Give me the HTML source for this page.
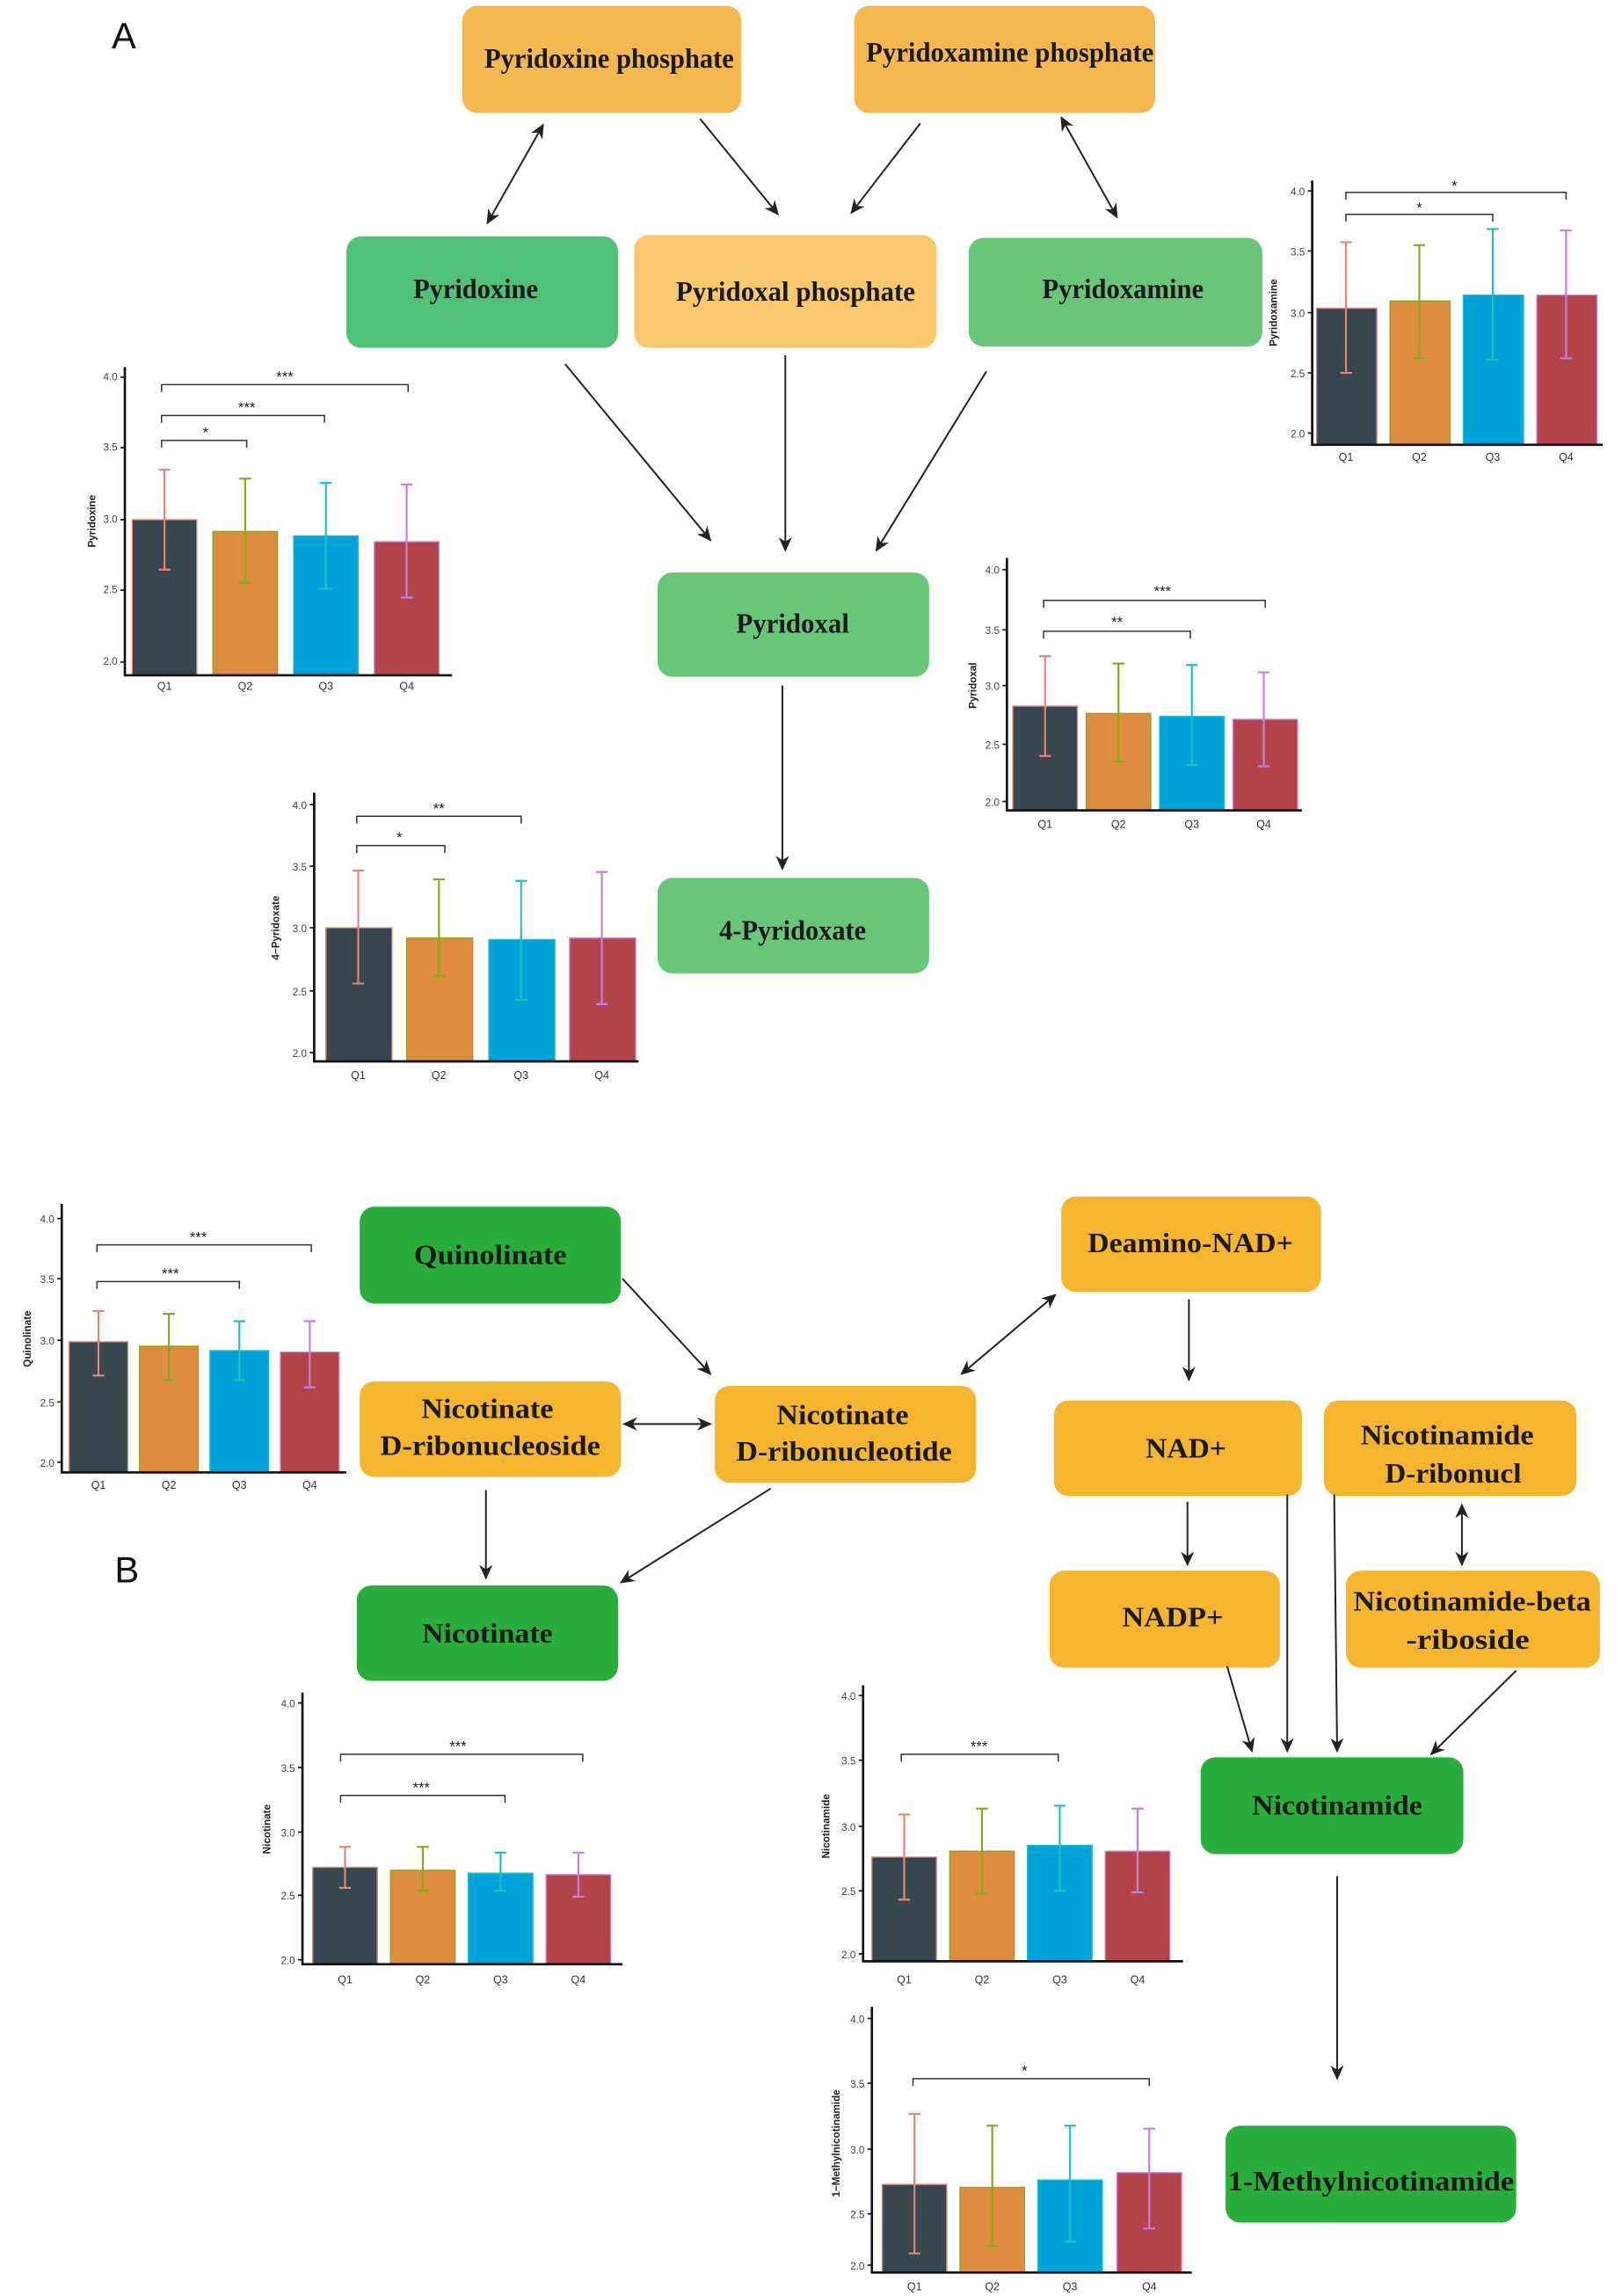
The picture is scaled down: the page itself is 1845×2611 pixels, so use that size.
<!DOCTYPE html>
<html><head><meta charset="utf-8"><style>
html,body{margin:0;padding:0;background:#fff;}
svg{display:block;}
.bx{font-family:"Liberation Serif",serif;font-weight:bold;font-size:19px;fill:#1a1a1a;}
.tk{font-family:"Liberation Sans",sans-serif;font-size:7px;fill:#444;}
.ql{font-family:"Liberation Sans",sans-serif;font-size:7.5px;fill:#333;}
.yl{font-family:"Liberation Sans",sans-serif;font-size:7px;font-weight:bold;fill:#222;}
.st{font-family:"Liberation Sans",sans-serif;font-size:10px;fill:#222;}
.ax{stroke:#111;stroke-width:1.6;fill:none;}
.br{stroke:#333;stroke-width:0.9;fill:none;}
.ar{stroke:#222;stroke-width:1.2;fill:none;}
</style></head><body>
<svg width="1845" height="2611" viewBox="0 0 1105 1564" xmlns="http://www.w3.org/2000/svg">
<defs>
<marker id="ah" markerWidth="10" markerHeight="10" refX="9" refY="5" orient="auto" markerUnits="userSpaceOnUse"><path d="M0,0.5 L10,5 L0,9.5 L3,5 Z" fill="#222"/></marker>
<marker id="as" markerWidth="10" markerHeight="10" refX="1" refY="5" orient="auto" markerUnits="userSpaceOnUse"><path d="M10,0.5 L0,5 L10,9.5 L7,5 Z" fill="#222"/></marker>
</defs>
<rect width="1105" height="1564" fill="#fff"/>

<!-- ===== Part A ===== -->
<text x="76" y="33" font-family="Liberation Sans,sans-serif" font-size="25" fill="#111">A</text>

<rect x="315" y="4" width="190" height="73" rx="10" fill="#f5b851"/>
<text class="bx" x="415" y="46" text-anchor="middle" textLength="170" lengthAdjust="spacingAndGlyphs">Pyridoxine phosphate</text>
<rect x="582" y="4" width="205" height="73" rx="10" fill="#f5b851"/>
<text class="bx" x="688" y="42" text-anchor="middle" textLength="196" lengthAdjust="spacingAndGlyphs">Pyridoxamine phosphate</text>

<rect x="236" y="161" width="185" height="76" rx="10" fill="#4fc277"/>
<text class="bx" x="324" y="203" text-anchor="middle" textLength="85" lengthAdjust="spacingAndGlyphs">Pyridoxine</text>
<rect x="432" y="160" width="206" height="77" rx="10" fill="#f8c96c"/>
<text class="bx" x="542" y="205" text-anchor="middle" textLength="163" lengthAdjust="spacingAndGlyphs">Pyridoxal phosphate</text>
<rect x="660" y="162" width="200" height="74" rx="10" fill="#69c577"/>
<text class="bx" x="765" y="203" text-anchor="middle" textLength="110" lengthAdjust="spacingAndGlyphs">Pyridoxamine</text>

<rect x="448" y="390" width="185" height="71" rx="10" fill="#69c577"/>
<text class="bx" x="540" y="431" text-anchor="middle" textLength="77" lengthAdjust="spacingAndGlyphs">Pyridoxal</text>
<rect x="448" y="598" width="185" height="65" rx="10" fill="#69c577"/>
<text class="bx" x="540" y="640" text-anchor="middle" textLength="100" lengthAdjust="spacingAndGlyphs">4-Pyridoxate</text>

<line class="ar" x1="370" y1="85" x2="332" y2="152" marker-start="url(#as)" marker-end="url(#ah)"/>
<line class="ar" x1="477" y1="81" x2="530" y2="146" marker-end="url(#ah)"/>
<line class="ar" x1="627" y1="84" x2="580" y2="145" marker-end="url(#ah)"/>
<line class="ar" x1="723" y1="80" x2="761" y2="148" marker-start="url(#as)" marker-end="url(#ah)"/>
<line class="ar" x1="385" y1="248" x2="484" y2="368" marker-end="url(#ah)"/>
<line class="ar" x1="535" y1="242" x2="535" y2="375" marker-end="url(#ah)"/>
<line class="ar" x1="672" y1="253" x2="597" y2="375" marker-end="url(#ah)"/>
<line class="ar" x1="533" y1="467" x2="533" y2="592" marker-end="url(#ah)"/>

<!-- Chart Pyridoxine -->
<g>
<rect x="90" y="354" width="44" height="106" fill="#36474f" stroke="#e98375" stroke-width="0.8"/>
<rect x="145" y="362" width="44" height="98" fill="#dd8c3e" stroke="#88a81e" stroke-width="0.8"/>
<rect x="200" y="365" width="44" height="95" fill="#00a2da" stroke="#1fbfc5" stroke-width="0.8"/>
<rect x="255" y="369" width="44" height="91" fill="#b34449" stroke="#c67ee0" stroke-width="0.8"/>
<path d="M112,320V388M108,320H116M108,388H116" stroke="#e98375" stroke-width="1.3" fill="none"/>
<path d="M167,326V397M163,326H171M163,397H171" stroke="#88a81e" stroke-width="1.3" fill="none"/>
<path d="M222,329V401M218,329H226M218,401H226" stroke="#1fbfc5" stroke-width="1.3" fill="none"/>
<path d="M277,330V407M273,330H281M273,407H281" stroke="#c67ee0" stroke-width="1.3" fill="none"/>
<path class="ax" d="M85,250V460H308"/>
<path d="M82,257h3M82,305h3M82,354h3M82,402h3M82,451h3" stroke="#111"/>
<text class="tk" x="80" y="259" text-anchor="end">4.0</text><text class="tk" x="80" y="307" text-anchor="end">3.5</text><text class="tk" x="80" y="356" text-anchor="end">3.0</text><text class="tk" x="80" y="404" text-anchor="end">2.5</text><text class="tk" x="80" y="453" text-anchor="end">2.0</text>
<text class="ql" x="112" y="470" text-anchor="middle">Q1</text><text class="ql" x="167" y="470" text-anchor="middle">Q2</text><text class="ql" x="222" y="470" text-anchor="middle">Q3</text><text class="ql" x="277" y="470" text-anchor="middle">Q4</text>
<text class="yl" transform="translate(65,355) rotate(-90)" text-anchor="middle">Pyridoxine</text>
<path class="br" d="M110,305V300H168V305M110,288V283H221V288M110,267V262H278V267"/>
<text class="st" x="140" y="298" text-anchor="middle">*</text><text class="st" x="168" y="281" text-anchor="middle">***</text><text class="st" x="194" y="260" text-anchor="middle">***</text>
</g>

<!-- Chart Pyridoxamine -->
<g>
<rect x="897" y="210" width="41" height="93" fill="#36474f" stroke="#e98375" stroke-width="0.8"/>
<rect x="947" y="205" width="41" height="98" fill="#dd8c3e" stroke="#88a81e" stroke-width="0.8"/>
<rect x="997" y="201" width="41" height="102" fill="#00a2da" stroke="#1fbfc5" stroke-width="0.8"/>
<rect x="1047" y="201" width="41" height="102" fill="#b34449" stroke="#c67ee0" stroke-width="0.8"/>
<path d="M917,165V254M913,165H921M913,254H921" stroke="#e98375" stroke-width="1.3" fill="none"/>
<path d="M967,167V244M963,167H971M963,244H971" stroke="#88a81e" stroke-width="1.3" fill="none"/>
<path d="M1017,156V245M1013,156H1021M1013,245H1021" stroke="#1fbfc5" stroke-width="1.3" fill="none"/>
<path d="M1067,157V244M1063,157H1071M1063,244H1071" stroke="#c67ee0" stroke-width="1.3" fill="none"/>
<path class="ax" d="M894,123V303H1092"/>
<path d="M891,130h3M891,171h3M891,213h3M891,254h3M891,295h3" stroke="#111"/>
<text class="tk" x="889" y="133" text-anchor="end">4.0</text><text class="tk" x="889" y="174" text-anchor="end">3.5</text><text class="tk" x="889" y="216" text-anchor="end">3.0</text><text class="tk" x="889" y="257" text-anchor="end">2.5</text><text class="tk" x="889" y="298" text-anchor="end">2.0</text>
<text class="ql" x="917" y="314" text-anchor="middle">Q1</text><text class="ql" x="967" y="314" text-anchor="middle">Q2</text><text class="ql" x="1017" y="314" text-anchor="middle">Q3</text><text class="ql" x="1067" y="314" text-anchor="middle">Q4</text>
<text class="yl" transform="translate(870,213) rotate(-90)" text-anchor="middle">Pyridoxamine</text>
<path class="br" d="M917,151V146H1017V151M917,136V131H1067V136"/>
<text class="st" x="967" y="145" text-anchor="middle">*</text><text class="st" x="991" y="130" text-anchor="middle">*</text>
</g>

<!-- Chart Pyridoxal -->
<g>
<rect x="690" y="481" width="44" height="71" fill="#36474f" stroke="#e98375" stroke-width="0.8"/>
<rect x="740" y="486" width="44" height="66" fill="#dd8c3e" stroke="#88a81e" stroke-width="0.8"/>
<rect x="790" y="488" width="44" height="64" fill="#00a2da" stroke="#1fbfc5" stroke-width="0.8"/>
<rect x="840" y="490" width="44" height="62" fill="#b34449" stroke="#c67ee0" stroke-width="0.8"/>
<path d="M712,447V515M708,447H716M708,515H716" stroke="#e98375" stroke-width="1.3" fill="none"/>
<path d="M762,452V519M758,452H766M758,519H766" stroke="#88a81e" stroke-width="1.3" fill="none"/>
<path d="M812,453V521M808,453H816M808,521H816" stroke="#1fbfc5" stroke-width="1.3" fill="none"/>
<path d="M861,458V522M857,458H865M857,522H865" stroke="#c67ee0" stroke-width="1.3" fill="none"/>
<path class="ax" d="M686,380V552H887"/>
<path d="M683,388h3M683,429h3M683,467h3M683,507h3M683,546h3" stroke="#111"/>
<text class="tk" x="681" y="391" text-anchor="end">4.0</text><text class="tk" x="681" y="432" text-anchor="end">3.5</text><text class="tk" x="681" y="470" text-anchor="end">3.0</text><text class="tk" x="681" y="510" text-anchor="end">2.5</text><text class="tk" x="681" y="549" text-anchor="end">2.0</text>
<text class="ql" x="712" y="564" text-anchor="middle">Q1</text><text class="ql" x="762" y="564" text-anchor="middle">Q2</text><text class="ql" x="812" y="564" text-anchor="middle">Q3</text><text class="ql" x="861" y="564" text-anchor="middle">Q4</text>
<text class="yl" transform="translate(665,467) rotate(-90)" text-anchor="middle">Pyridoxal</text>
<path class="br" d="M711,435V430H811V435M711,414V409H862V414"/>
<text class="st" x="761" y="427" text-anchor="middle">**</text><text class="st" x="792" y="406" text-anchor="middle">***</text>
</g>

<!-- Chart 4-Pyridoxate -->
<g>
<rect x="222" y="632" width="45" height="91" fill="#36474f" stroke="#e98375" stroke-width="0.8"/>
<rect x="277" y="639" width="45" height="84" fill="#dd8c3e" stroke="#88a81e" stroke-width="0.8"/>
<rect x="333" y="640" width="45" height="83" fill="#00a2da" stroke="#1fbfc5" stroke-width="0.8"/>
<rect x="388" y="639" width="45" height="84" fill="#b34449" stroke="#c67ee0" stroke-width="0.8"/>
<path d="M244,593V670M240,593H248M240,670H248" stroke="#e98375" stroke-width="1.3" fill="none"/>
<path d="M299,599V665M295,599H303M295,665H303" stroke="#88a81e" stroke-width="1.3" fill="none"/>
<path d="M355,600V681M351,600H359M351,681H359" stroke="#1fbfc5" stroke-width="1.3" fill="none"/>
<path d="M410,594V684M406,594H414M406,684H414" stroke="#c67ee0" stroke-width="1.3" fill="none"/>
<path class="ax" d="M214,540V723H435"/>
<path d="M211,548h3M211,590h3M211,632h3M211,675h3M211,717h3" stroke="#111"/>
<text class="tk" x="209" y="551" text-anchor="end">4.0</text><text class="tk" x="209" y="593" text-anchor="end">3.5</text><text class="tk" x="209" y="635" text-anchor="end">3.0</text><text class="tk" x="209" y="678" text-anchor="end">2.5</text><text class="tk" x="209" y="720" text-anchor="end">2.0</text>
<text class="ql" x="244" y="735" text-anchor="middle">Q1</text><text class="ql" x="299" y="735" text-anchor="middle">Q2</text><text class="ql" x="355" y="735" text-anchor="middle">Q3</text><text class="ql" x="410" y="735" text-anchor="middle">Q4</text>
<text class="yl" transform="translate(190,632) rotate(-90)" text-anchor="middle">4−Pyridoxate</text>
<path class="br" d="M243,581V576H303V581M243,561V556H355V561"/>
<text class="st" x="272" y="574" text-anchor="middle">*</text><text class="st" x="299" y="554" text-anchor="middle">**</text>
</g>

<!-- ===== Part B ===== -->
<text x="78" y="1078" font-family="Liberation Sans,sans-serif" font-size="25" fill="#111">B</text>

<rect x="245" y="822" width="178" height="66" rx="10" fill="#2aae3b"/>
<text class="bx" x="334" y="861" text-anchor="middle" textLength="104" lengthAdjust="spacingAndGlyphs">Quinolinate</text>
<rect x="723" y="815" width="177" height="65" rx="10" fill="#f5b52e"/>
<text class="bx" x="811" y="853" text-anchor="middle" textLength="140" lengthAdjust="spacingAndGlyphs">Deamino-NAD+</text>
<rect x="245" y="941" width="178" height="65" rx="10" fill="#f5b52e"/>
<text class="bx" x="332" y="966" text-anchor="middle" textLength="90" lengthAdjust="spacingAndGlyphs">Nicotinate</text>
<text class="bx" x="334" y="991" text-anchor="middle" textLength="150" lengthAdjust="spacingAndGlyphs">D-ribonucleoside</text>
<rect x="487" y="944" width="178" height="66" rx="10" fill="#f5b52e"/>
<text class="bx" x="574" y="970" text-anchor="middle" textLength="90" lengthAdjust="spacingAndGlyphs">Nicotinate</text>
<text class="bx" x="575" y="995" text-anchor="middle" textLength="147" lengthAdjust="spacingAndGlyphs">D-ribonucleotide</text>
<rect x="718" y="954" width="169" height="65" rx="10" fill="#f5b52e"/>
<text class="bx" x="808" y="993" text-anchor="middle" textLength="55" lengthAdjust="spacingAndGlyphs">NAD+</text>
<rect x="902" y="954" width="172" height="65" rx="10" fill="#f5b52e"/>
<text class="bx" x="986" y="984" text-anchor="middle" textLength="118" lengthAdjust="spacingAndGlyphs">Nicotinamide</text>
<text class="bx" x="990" y="1010" text-anchor="middle" textLength="93" lengthAdjust="spacingAndGlyphs">D-ribonucl</text>
<rect x="715" y="1070" width="157" height="66" rx="10" fill="#f5b52e"/>
<text class="bx" x="799" y="1108" text-anchor="middle" textLength="69" lengthAdjust="spacingAndGlyphs">NADP+</text>
<rect x="917" y="1070" width="173" height="66" rx="10" fill="#f5b52e"/>
<text class="bx" x="1003" y="1097" text-anchor="middle" textLength="162" lengthAdjust="spacingAndGlyphs">Nicotinamide-beta</text>
<text class="bx" x="1000" y="1123" text-anchor="middle" textLength="84" lengthAdjust="spacingAndGlyphs">-riboside</text>
<rect x="243" y="1080" width="178" height="65" rx="10" fill="#2aae3b"/>
<text class="bx" x="332" y="1119" text-anchor="middle" textLength="89" lengthAdjust="spacingAndGlyphs">Nicotinate</text>
<rect x="818" y="1197" width="179" height="66" rx="10" fill="#2aae3b"/>
<text class="bx" x="911" y="1236" text-anchor="middle" textLength="116" lengthAdjust="spacingAndGlyphs">Nicotinamide</text>
<rect x="835" y="1448" width="198" height="66" rx="10" fill="#2aae3b"/>
<text class="bx" x="934" y="1492" text-anchor="middle" textLength="195" lengthAdjust="spacingAndGlyphs">1-Methylnicotinamide</text>

<line class="ar" x1="424" y1="871" x2="484" y2="936" marker-end="url(#ah)"/>
<line class="ar" x1="655" y1="936" x2="719" y2="882" marker-start="url(#as)" marker-end="url(#ah)"/>
<line class="ar" x1="425" y1="970" x2="484" y2="970" marker-start="url(#as)" marker-end="url(#ah)"/>
<line class="ar" x1="331" y1="1015" x2="331" y2="1075" marker-end="url(#ah)"/>
<line class="ar" x1="525" y1="1014" x2="423" y2="1078" marker-end="url(#ah)"/>
<line class="ar" x1="810" y1="885" x2="810" y2="940" marker-end="url(#ah)"/>
<line class="ar" x1="809" y1="1023" x2="809" y2="1066" marker-end="url(#ah)"/>
<line class="ar" x1="877" y1="1018" x2="877" y2="1193" marker-end="url(#ah)"/>
<line class="ar" x1="909" y1="1018" x2="911" y2="1193" marker-end="url(#ah)"/>
<line class="ar" x1="996" y1="1025" x2="996" y2="1066" marker-start="url(#as)" marker-end="url(#ah)"/>
<line class="ar" x1="836" y1="1135" x2="853" y2="1193" marker-end="url(#ah)"/>
<line class="ar" x1="1033" y1="1138" x2="975" y2="1195" marker-end="url(#ah)"/>
<line class="ar" x1="911" y1="1278" x2="911" y2="1416" marker-end="url(#ah)"/>

<!-- Chart Quinolinate -->
<g>
<rect x="47" y="914" width="40" height="89" fill="#36474f" stroke="#e98375" stroke-width="0.8"/>
<rect x="95" y="917" width="40" height="86" fill="#dd8c3e" stroke="#88a81e" stroke-width="0.8"/>
<rect x="143" y="920" width="40" height="83" fill="#00a2da" stroke="#1fbfc5" stroke-width="0.8"/>
<rect x="191" y="921" width="40" height="82" fill="#b34449" stroke="#c67ee0" stroke-width="0.8"/>
<path d="M67,893V937M63,893H71M63,937H71" stroke="#e98375" stroke-width="1.3" fill="none"/>
<path d="M115,895V940M111,895H119M111,940H119" stroke="#88a81e" stroke-width="1.3" fill="none"/>
<path d="M163,900V940M159,900H167M159,940H167" stroke="#1fbfc5" stroke-width="1.3" fill="none"/>
<path d="M211,900V945M207,900H215M207,945H215" stroke="#c67ee0" stroke-width="1.3" fill="none"/>
<path class="ax" d="M42,820V1003H236"/>
<path d="M39,830h3M39,871h3M39,913h3M39,955h3M39,996h3" stroke="#111"/>
<text class="tk" x="37" y="833" text-anchor="end">4.0</text><text class="tk" x="37" y="874" text-anchor="end">3.5</text><text class="tk" x="37" y="916" text-anchor="end">3.0</text><text class="tk" x="37" y="958" text-anchor="end">2.5</text><text class="tk" x="37" y="999" text-anchor="end">2.0</text>
<text class="ql" x="67" y="1014" text-anchor="middle">Q1</text><text class="ql" x="115" y="1014" text-anchor="middle">Q2</text><text class="ql" x="163" y="1014" text-anchor="middle">Q3</text><text class="ql" x="211" y="1014" text-anchor="middle">Q4</text>
<text class="yl" transform="translate(21,912) rotate(-90)" text-anchor="middle">Quinolinate</text>
<path class="br" d="M66,878V873H163V878M66,853V848H212V853"/>
<text class="st" x="116" y="871" text-anchor="middle">***</text><text class="st" x="135" y="846" text-anchor="middle">***</text>
</g>

<!-- Chart Nicotinate -->
<g>
<rect x="213" y="1272" width="44" height="66" fill="#36474f" stroke="#e98375" stroke-width="0.8"/>
<rect x="266" y="1274" width="44" height="64" fill="#dd8c3e" stroke="#88a81e" stroke-width="0.8"/>
<rect x="319" y="1276" width="44" height="62" fill="#00a2da" stroke="#1fbfc5" stroke-width="0.8"/>
<rect x="372" y="1277" width="44" height="61" fill="#b34449" stroke="#c67ee0" stroke-width="0.8"/>
<path d="M235,1258V1286M231,1258H239M231,1286H239" stroke="#e98375" stroke-width="1.3" fill="none"/>
<path d="M288,1258V1288M284,1258H292M284,1288H292" stroke="#88a81e" stroke-width="1.3" fill="none"/>
<path d="M341,1262V1288M337,1262H345M337,1288H345" stroke="#1fbfc5" stroke-width="1.3" fill="none"/>
<path d="M394,1262V1292M390,1262H398M390,1292H398" stroke="#c67ee0" stroke-width="1.3" fill="none"/>
<path class="ax" d="M206,1153V1338H424"/>
<path d="M203,1160h3M203,1204h3M203,1248h3M203,1291h3M203,1335h3" stroke="#111"/>
<text class="tk" x="201" y="1163" text-anchor="end">4.0</text><text class="tk" x="201" y="1207" text-anchor="end">3.5</text><text class="tk" x="201" y="1251" text-anchor="end">3.0</text><text class="tk" x="201" y="1294" text-anchor="end">2.5</text><text class="tk" x="201" y="1338" text-anchor="end">2.0</text>
<text class="ql" x="235" y="1351" text-anchor="middle">Q1</text><text class="ql" x="288" y="1351" text-anchor="middle">Q2</text><text class="ql" x="341" y="1351" text-anchor="middle">Q3</text><text class="ql" x="394" y="1351" text-anchor="middle">Q4</text>
<text class="yl" transform="translate(184,1246) rotate(-90)" text-anchor="middle">Nicotinate</text>
<path class="br" d="M232,1228V1223H344V1228M232,1200V1195H397V1200"/>
<text class="st" x="287" y="1221" text-anchor="middle">***</text><text class="st" x="312" y="1193" text-anchor="middle">***</text>
</g>

<!-- Chart Nicotinamide -->
<g>
<rect x="594" y="1265" width="44" height="71" fill="#36474f" stroke="#e98375" stroke-width="0.8"/>
<rect x="647" y="1261" width="44" height="75" fill="#dd8c3e" stroke="#88a81e" stroke-width="0.8"/>
<rect x="700" y="1257" width="44" height="79" fill="#00a2da" stroke="#1fbfc5" stroke-width="0.8"/>
<rect x="753" y="1261" width="44" height="75" fill="#b34449" stroke="#c67ee0" stroke-width="0.8"/>
<path d="M616,1236V1294M612,1236H620M612,1294H620" stroke="#e98375" stroke-width="1.3" fill="none"/>
<path d="M669,1232V1290M665,1232H673M665,1290H673" stroke="#88a81e" stroke-width="1.3" fill="none"/>
<path d="M722,1230V1288M718,1230H726M718,1288H726" stroke="#1fbfc5" stroke-width="1.3" fill="none"/>
<path d="M775,1232V1289M771,1232H779M771,1289H779" stroke="#c67ee0" stroke-width="1.3" fill="none"/>
<path class="ax" d="M588,1148V1336H806"/>
<path d="M585,1155h3M585,1199h3M585,1244h3M585,1288h3M585,1331h3" stroke="#111"/>
<text class="tk" x="583" y="1158" text-anchor="end">4.0</text><text class="tk" x="583" y="1202" text-anchor="end">3.5</text><text class="tk" x="583" y="1247" text-anchor="end">3.0</text><text class="tk" x="583" y="1291" text-anchor="end">2.5</text><text class="tk" x="583" y="1334" text-anchor="end">2.0</text>
<text class="ql" x="616" y="1351" text-anchor="middle">Q1</text><text class="ql" x="669" y="1351" text-anchor="middle">Q2</text><text class="ql" x="722" y="1351" text-anchor="middle">Q3</text><text class="ql" x="775" y="1351" text-anchor="middle">Q4</text>
<text class="yl" transform="translate(565,1244) rotate(-90)" text-anchor="middle">Nicotinamide</text>
<path class="br" d="M614,1200V1195H721V1200"/>
<text class="st" x="667" y="1193" text-anchor="middle">***</text>
</g>

<!-- Chart 1-Methylnicotinamide -->
<g>
<rect x="601" y="1488" width="44" height="60" fill="#36474f" stroke="#e98375" stroke-width="0.8"/>
<rect x="654" y="1490" width="44" height="58" fill="#dd8c3e" stroke="#88a81e" stroke-width="0.8"/>
<rect x="707" y="1485" width="44" height="63" fill="#00a2da" stroke="#1fbfc5" stroke-width="0.8"/>
<rect x="761" y="1480" width="44" height="68" fill="#b34449" stroke="#c67ee0" stroke-width="0.8"/>
<path d="M623,1440V1535M619,1440H627M619,1535H627" stroke="#e98375" stroke-width="1.3" fill="none"/>
<path d="M676,1448V1530M672,1448H680M672,1530H680" stroke="#88a81e" stroke-width="1.3" fill="none"/>
<path d="M729,1448V1527M725,1448H733M725,1527H733" stroke="#1fbfc5" stroke-width="1.3" fill="none"/>
<path d="M783,1450V1518M779,1450H787M779,1518H787" stroke="#c67ee0" stroke-width="1.3" fill="none"/>
<path class="ax" d="M594,1367V1548H812"/>
<path d="M591,1375h3M591,1419h3M591,1464h3M591,1508h3M591,1543h3" stroke="#111"/>
<text class="tk" x="589" y="1378" text-anchor="end">4.0</text><text class="tk" x="589" y="1422" text-anchor="end">3.5</text><text class="tk" x="589" y="1467" text-anchor="end">3.0</text><text class="tk" x="589" y="1511" text-anchor="end">2.5</text><text class="tk" x="589" y="1546" text-anchor="end">2.0</text>
<text class="ql" x="623" y="1560" text-anchor="middle">Q1</text><text class="ql" x="676" y="1560" text-anchor="middle">Q2</text><text class="ql" x="729" y="1560" text-anchor="middle">Q3</text><text class="ql" x="783" y="1560" text-anchor="middle">Q4</text>
<text class="yl" transform="translate(572,1460) rotate(-90)" text-anchor="middle" font-size="6.5">1−Methylnicotinamide</text>
<path class="br" d="M622,1421V1416H783V1421"/>
<text class="st" x="698" y="1414" text-anchor="middle">*</text>
</g>
</svg>
</body></html>
